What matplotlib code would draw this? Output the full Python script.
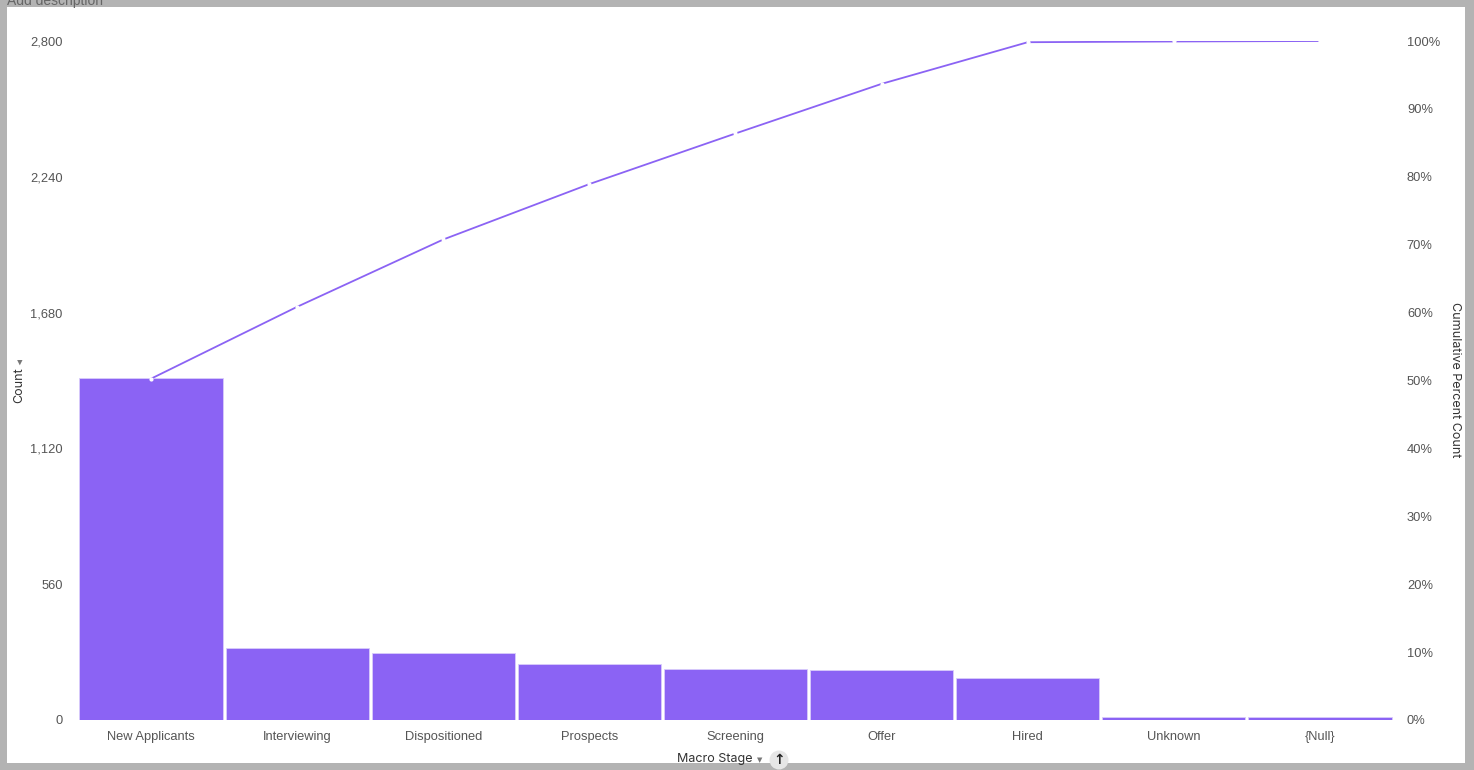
import matplotlib.pyplot as plt
from matplotlib.patches import Rectangle, Ellipse
from matplotlib.ticker import FuncFormatter

stages = ["New Applicants", "Interviewing", "Dispositioned", "Prospects", "Screening",
          "Offer", "Hired", "Unknown", "{Null}"]
counts = [1410, 297, 278, 229, 209, 205, 172, 3, 2]

count_ticks = [0, 560, 1120, 1680, 2240, 2800]
pct_ticks = [0, 10, 20, 30, 40, 50, 60, 70, 80, 90, 100]

BAR_COLOR = "#8b63f4"
TICK_COLOR = "#555555"

def main():
    total = sum(counts)
    cum_pct = []
    running = 0
    for c in counts:
        running += c
        cum_pct.append(running / total * 100)

    fig = plt.figure(figsize=(14.74, 7.70), dpi=100)
    fig.patch.set_facecolor("#b3b3b3")
    # white card
    fig.add_artist(Rectangle((7 / 1474, 1 - 763 / 770), (1465 - 7) / 1474, (763 - 7) / 770,
                             transform=fig.transFigure, facecolor="white", edgecolor="none", zorder=0))
    fig.text(7 / 1474, 1 - 1 / 770, "Add description", color="#666666", fontsize=10,
             family="Liberation Sans", ha="left", va="center")

    ax = fig.add_axes([78 / 1474, 1 - 720 / 770, (1393 - 78) / 1474, (720 - 41) / 770])
    ax.set_facecolor("none")
    x = list(range(len(stages)))
    bars = ax.bar(x, counts, width=0.98, color=BAR_COLOR, edgecolor="#d9ccfb", linewidth=0.6)
    for b in bars:
        if b.get_height() < 12:
            b.set_height(12)
    ax.set_xlim(-0.5, len(stages) - 0.5)
    ax.set_ylim(0, 2800)
    ax.set_yticks(count_ticks)
    ax.yaxis.set_major_formatter(FuncFormatter(lambda v, p: f"{int(v):,}"))
    ax.set_xticks(x)
    ax.set_xticklabels(stages)
    for s in ax.spines.values():
        s.set_visible(False)
    ax.tick_params(length=0, colors=TICK_COLOR, labelsize=9.3, pad=8)
    ax.tick_params(axis="y", pad=11)
    for lbl in ax.get_xticklabels() + ax.get_yticklabels():
        lbl.set_family("Liberation Sans")

    ax2 = ax.twinx()
    ax2.plot(x, cum_pct, color=BAR_COLOR, linewidth=1.3, marker="o", markersize=2.0,
             markerfacecolor="white", markeredgecolor="white", zorder=3)
    ax2.set_ylim(0, 100)
    ax2.set_yticks(pct_ticks)
    ax2.set_yticklabels([f"{p}%" for p in pct_ticks])
    for s in ax2.spines.values():
        s.set_visible(False)
    ax2.tick_params(length=0, colors=TICK_COLOR, labelsize=9.3, pad=10)
    for lbl in ax2.get_yticklabels():
        lbl.set_family("Liberation Sans")

    # axis titles
    fig.text(19 / 1474, 1 - 385 / 770, "Count", rotation=90, color="#333333", fontsize=9,
             family="Inter", ha="center", va="center")
    fig.text(19 / 1474, 1 - 362 / 770, "\u25b6", rotation=270, color="#777777", fontsize=5,
             family="DejaVu Sans", ha="center", va="center")
    fig.text(1455 / 1474, 1 - 380 / 770, "Cumulative Percent Count", rotation=270, color="#333333",
             fontsize=9, family="Inter", ha="center", va="center")
    fig.text(715 / 1474, 1 - 759 / 770, "Macro Stage", color="#333333", fontsize=9,
             family="Inter", ha="center", va="center")
    fig.text(760 / 1474, 1 - 760 / 770, "\u25bc", color="#777777", fontsize=5,
             family="DejaVu Sans", ha="center", va="center")
    fig.add_artist(Ellipse((779 / 1474, 1 - 760 / 770), 19 / 1474, 19 / 770, transform=fig.transFigure,
                           facecolor="#e6e6e6", edgecolor="none", zorder=1))
    fig.text(779 / 1474, 1 - 760 / 770, "\u2191", color="#222222", fontsize=10, fontweight="bold",
             family="DejaVu Sans", ha="center", va="center", zorder=2)

    plt.savefig("out.png", dpi=100, facecolor=fig.get_facecolor())
    plt.close()

if __name__ == "__main__":
    main()
